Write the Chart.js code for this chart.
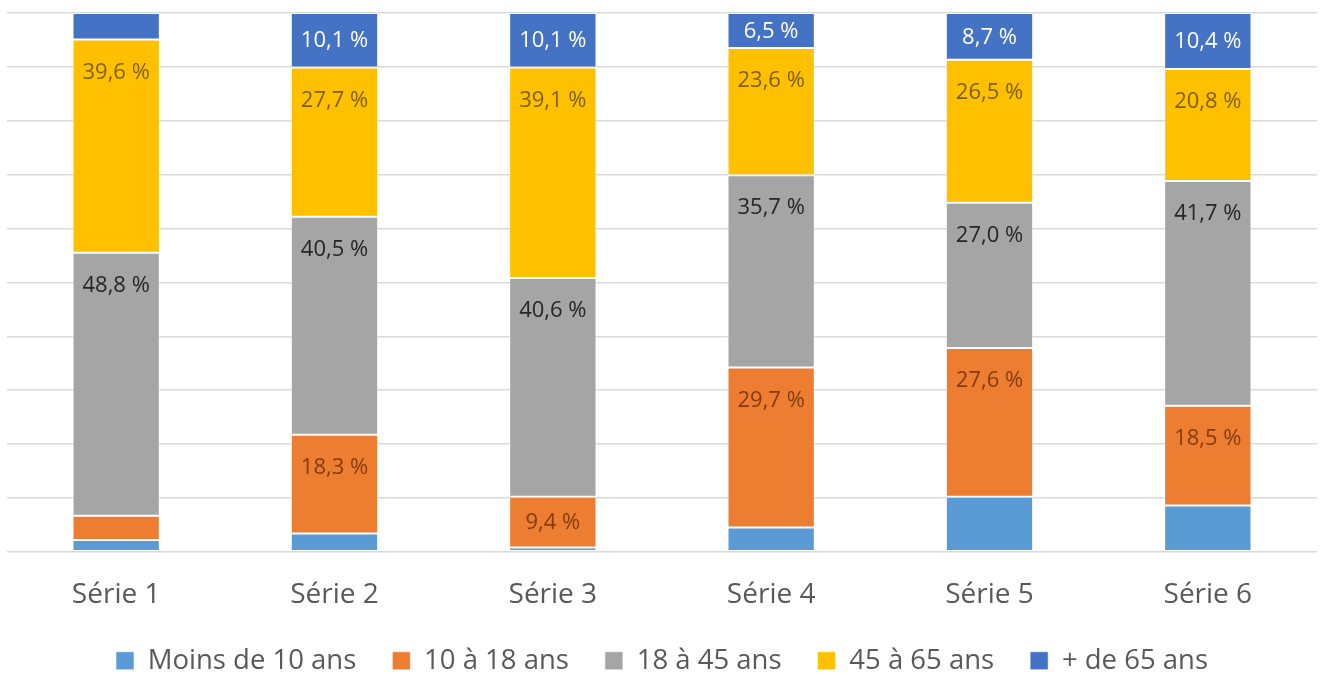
<!DOCTYPE html>
<html>
<head>
<meta charset="utf-8">
<script src="https://cdn.jsdelivr.net/npm/chart.js@4/dist/chart.umd.min.js"></script>
<style>
  html, body { margin: 0; padding: 0; background: #ffffff; }
  #wrap { width: 1320px; height: 675px; }
</style>
</head>
<body>
<div id="wrap"><canvas id="c" width="1320" height="675"></canvas></div>
<script>
// ---- data ----
const categories = ["Série 1", "Série 2", "Série 3", "Série 4", "Série 5", "Série 6"];
const seriesNames = ["Moins de 10 ans", "10 à 18 ans", "18 à 45 ans", "45 à 65 ans", "+ de 65 ans"];
const moins10 = [2.2, 3.4, 0.8, 4.5, 10.2, 8.6];
const de10a18 = [4.5, 18.3, 9.4, 29.7, 27.6, 18.5];
const de18a45 = [48.8, 40.5, 40.6, 35.7, 27.0, 41.7];
const de45a65 = [39.6, 27.7, 39.1, 23.6, 26.5, 20.8];
const plus65 = [4.9, 10.1, 10.1, 6.5, 8.7, 10.4];
const yTicks = [0, 10, 20, 30, 40, 50, 60, 70, 80, 90, 100];

// ---- styles ----
const colors = ["#5B9BD5", "#ED7D31", "#A5A5A5", "#FFC000", "#4472C4"];
const labelColors = [null, "#843C0C", "#262626", "#7F6000", "#FFFFFF"];
const FONT = "'Open Sans', 'DejaVu Sans', sans-serif";

const allSeries = [moins10, de10a18, de18a45, de45a65, plus65];

const labelPlugin = {
  id: 'segLabels',
  afterDatasetsDraw(chart) {
    const ctx = chart.ctx;
    ctx.save();
    ctx.font = "22px " + FONT;
    ctx.textAlign = 'center';
    ctx.textBaseline = 'middle';
    chart.data.datasets.forEach((ds, di) => {
      if (!labelColors[di]) return;
      const meta = chart.getDatasetMeta(di);
      meta.data.forEach((bar, i) => {
        const v = ds.data[i];
        if (v < 6) return;
        const top = Math.min(bar.y, bar.base);
        const bottom = Math.max(bar.y, bar.base);
        const y = Math.min((top + bottom) / 2 + 1, top + 33);
        ctx.fillStyle = labelColors[di];
        ctx.fillText(v.toFixed(1).replace('.', ',') + ' %', bar.x, y);
      });
    });
    ctx.restore();
  }
};

new Chart(document.getElementById('c'), {
  type: 'bar',
  data: {
    labels: categories,
    datasets: allSeries.map((arr, i) => ({
      label: seriesNames[i],
      data: arr,
      backgroundColor: colors[i],
      borderColor: 'rgba(255,255,255,0.55)',
      borderWidth: 1,
      borderSkipped: false,
      barPercentage: 0.4,
      categoryPercentage: 1.0
    }))
  },
  options: {
    responsive: false,
    animation: false,
    layout: { padding: { left: 7, right: 3, top: 13, bottom: -9.5 } },
    plugins: {
      tooltip: { enabled: false },
      legend: {
        position: 'bottom',
        labels: {
          font: { family: FONT, size: 27.5 },
          color: '#595959',
          boxWidth: 18,
          boxHeight: 18,
          padding: 36
        }
      }
    },
    scales: {
      x: {
        stacked: true,
        grid: { display: false, drawTicks: false },
        border: { display: false },
        ticks: {
          font: { family: FONT, size: 28 },
          color: '#595959',
          padding: 26
        },
        afterFit: (scale) => { scale.height = 59.25; }
      },
      y: {
        stacked: true,
        min: 0,
        max: 100,
        afterBuildTicks: (scale) => { scale.ticks = yTicks.map(v => ({ value: v })); },
        grid: { color: '#D9D9D9', lineWidth: 1.5, drawTicks: false },
        border: { display: false },
        ticks: { display: false }
      }
    }
  },
  plugins: [labelPlugin]
});
</script>
</body>
</html>
